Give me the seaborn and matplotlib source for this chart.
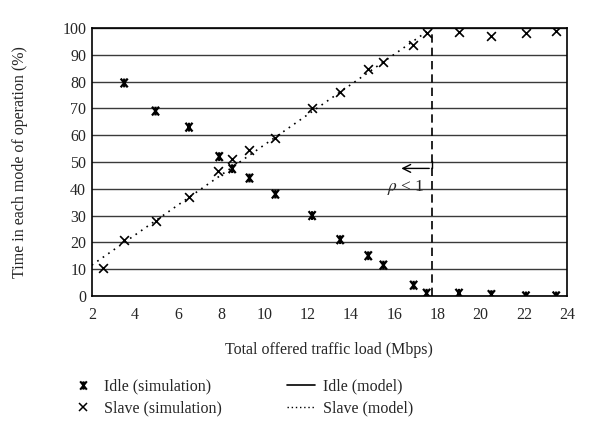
import matplotlib
matplotlib.use('Agg')
import matplotlib.pyplot as plt
import seaborn as sns
from matplotlib.lines import Line2D
from matplotlib.path import Path

# --- data ---
idle_x = [3.5, 4.95, 6.5, 7.9, 8.5, 9.3, 10.5, 12.2, 13.5, 14.8, 15.5, 16.9, 17.5, 19.0, 20.5, 22.1, 23.5]
idle_y = [79.5, 69, 63, 52, 47.5, 44, 38, 30, 21, 15, 11.5, 4, 1, 1, 0.5, 0, 0]
slave_x = [2.5, 3.5, 4.95, 6.5, 7.85, 8.5, 9.3, 10.5, 12.2, 13.5, 14.8, 15.5, 16.85, 17.5, 19.0, 20.5, 22.1, 23.5]
slave_y = [10.5, 21, 28, 37, 46.5, 51, 54.5, 59, 70, 76.2, 84.6, 87.3, 93.7, 98, 98.6, 97.1, 98.3, 99]
slave_model_x = [2, 17.75]
slave_model_y = [11.5, 100]
rho_limit = 17.75
x_ticks = list(range(2, 25, 2))
y_ticks = list(range(0, 101, 10))

# idle marker: an x with a vertical bar through it
idle_marker = Path([(-0.8, -1), (0.8, 1), (-0.8, 1), (0.8, -1), (0, -1), (0, 1)],
                   [Path.MOVETO, Path.LINETO, Path.MOVETO, Path.LINETO, Path.MOVETO, Path.LINETO])

sns.set_style('white')
plt.rcParams['font.family'] = ['Liberation Serif', 'DejaVu Serif']
plt.rcParams['mathtext.fontset'] = 'stix'

fig = plt.figure(figsize=(6, 4.45), dpi=100)
ax = fig.add_axes([0.153, 0.335, 0.792, 0.602])

# gridlines
for yv in y_ticks:
    ax.axhline(yv, color='#3a3a3a', lw=1.0, zorder=1)

sns.lineplot(x=slave_model_x, y=slave_model_y, ax=ax, color='black', lw=1.2,
             linestyle=(0, (1, 3)), zorder=2)
sns.scatterplot(x=idle_x, y=idle_y, ax=ax, marker=idle_marker, s=40, facecolor='none',
                edgecolor='black', linewidth=1.6, zorder=3)
sns.scatterplot(x=slave_x, y=slave_y, ax=ax, marker='x', s=40, color='black',
                linewidth=1.2, zorder=3)

# stability limit
ax.plot([rho_limit, rho_limit], [0, 100], color='black', lw=1.2, linestyle=(0, (5, 3)), zorder=2)
ax.plot([rho_limit, rho_limit], [47.6, 50.3], color='black', lw=1.0)
ax.annotate('', xy=(16.2, 47.6), xytext=(rho_limit, 47.6),
            arrowprops=dict(arrowstyle='->', color='black', lw=1.0, mutation_scale=14))
ax.text(16.55, 40.5, r'$\rho$ < 1', ha='center', va='center', fontsize=12.5)

ax.set_xlim(2, 24)
ax.set_ylim(0, 100)
ax.set_xticks(x_ticks)
ax.set_yticks(y_ticks)
ax.tick_params(axis='x', direction='out', length=4, width=1, labelsize=11.5, color='black', pad=4)
ax.tick_params(axis='y', length=0, labelsize=11.5, pad=4)
for sp in ax.spines.values():
    sp.set_color('black')
    sp.set_linewidth(1.2)
ax.set_xlabel('Total offered traffic load (Mbps)', fontsize=11.5, labelpad=14)
ax.set_ylabel('Time in each mode of operation (%)', fontsize=11.5, labelpad=25)

handles = [
    Line2D([], [], marker=idle_marker, color='black', markerfacecolor='none', linestyle='none',
           markersize=6, markeredgewidth=1.5),
    Line2D([], [], marker='x', color='black', linestyle='none', markersize=6, markeredgewidth=1.1),
    Line2D([], [], color='black', lw=1.2),
    Line2D([], [], color='black', lw=1.0, linestyle=(0, (1, 2))),
]
labels = ['Idle (simulation)', 'Slave (simulation)', 'Idle (model)', 'Slave (model)']
fig.legend(handles, labels, ncol=2, loc='upper left', bbox_to_anchor=(0.091, 0.181),
           frameon=False, fontsize=11.5, handlelength=1.7, columnspacing=4.1,
           labelspacing=0.35, handletextpad=0.5)
fig.savefig('out.png', dpi=100)
